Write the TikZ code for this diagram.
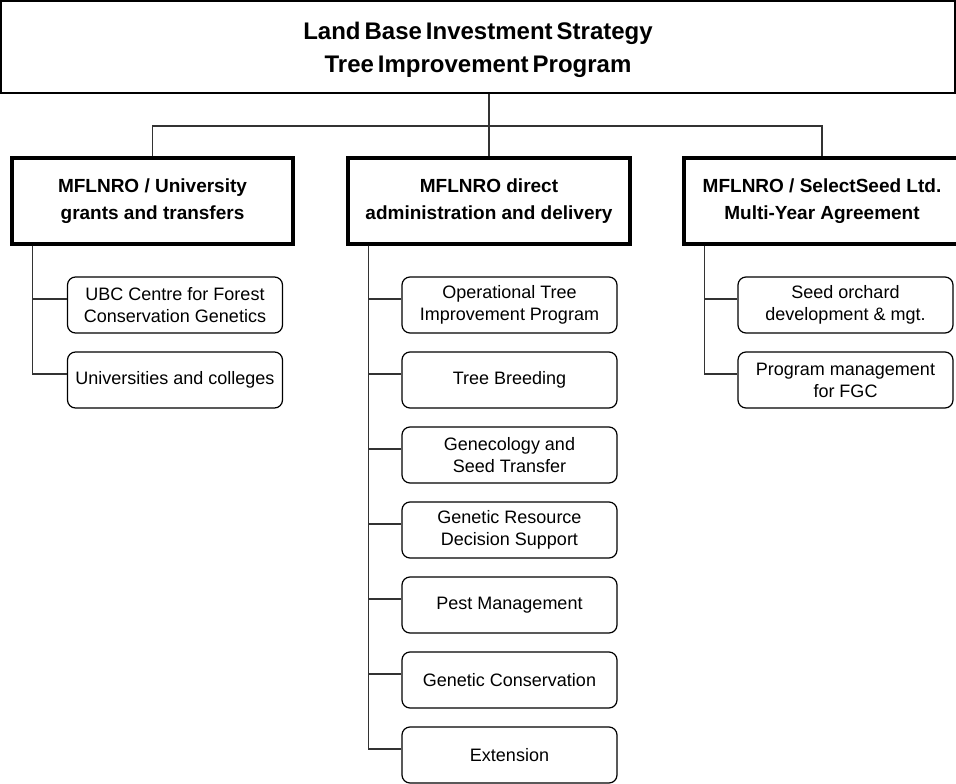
\documentclass[tikz,border=0pt]{standalone}
\usepackage{fontspec}
\setmainfont{Liberation Sans}
\newfontfamily\titlefont{Liberation Sans}[WordSpace=0.6]
\usetikzlibrary{calc}

\begin{document}
\begin{tikzpicture}[x=1pt,y=-1pt,
    topbox/.style={draw=black, line width=1.2pt, minimum width=954pt, minimum height=92pt,
      inner sep=0pt, align=center, font=\titlefont\bfseries\fontsize{24}{33}\selectfont},
    headbox/.style={draw=black, line width=3.2pt, minimum height=86pt,
      inner sep=0pt, align=center, font=\bfseries\fontsize{19}{27}\selectfont},
    itembox/.style={draw=black, line width=1.2pt, rounded corners=8pt, minimum width=215pt,
      minimum height=56pt, inner sep=0pt, align=center, font=\fontsize{18}{22}\selectfont},
    link/.style={draw=black!80, line width=1.3pt}]
\useasboundingbox (0,0) rectangle (956,784);
\clip (0,0) rectangle (956,784);

% top and heads
\node[topbox] (lbis) at (478,47) {};
\node at (lbis.center) [yshift=-3pt, align=center, font=\titlefont\bfseries\fontsize{24}{33}\selectfont] (title)
  {Land Base Investment Strategy\\Tree Improvement Program};
\node[headbox, minimum width=281pt] (univ) at (152.5,201) {MFLNRO / University\\grants and transfers};
\node[headbox, minimum width=282pt] (direct) at (489,201) {MFLNRO direct\\administration and delivery};
\node[headbox, minimum width=276pt] (seed) at (822,201) {MFLNRO / SelectSeed Ltd.\\Multi-Year Agreement};

\coordinate (bus) at (489,126);
\draw[link] (lbis.south -| direct.north) -- (direct.north);
\draw[link] (univ.north) |- (bus) -| (seed.north);

% university column
\node[itembox] (ubc) at (175,305) {UBC Centre for Forest\\Conservation Genetics};
\node[itembox] (colleges) at (175,380) {Universities and colleges};
\foreach \n in {ubc,colleges}
  \draw[link] ([xshift=22pt]univ.south west) |- ([yshift=6pt]\n.west);

% direct delivery column
\foreach \txt [count=\k from 0] in {{Operational Tree\\Improvement Program}, Tree Breeding,
    {Genecology and\\Seed Transfer}, {Genetic Resource\\Decision Support}, Pest Management,
    Genetic Conservation, Extension}
{
  \node[itembox] (mid\k) at (509.5,305+75*\k) {\txt};
  \draw[link] ([xshift=22pt]direct.south west) |- ([yshift=6pt]mid\k.west);
}

% selectseed column
\node[itembox] (orchard) at (845.5,305) {Seed orchard\\development \& mgt.};
\node[itembox] (fgc) at (845.5,380) {Program management\\for FGC};
\foreach \n in {orchard,fgc}
  \draw[link] ([xshift=22pt]seed.south west) |- ([yshift=6pt]\n.west);
\end{tikzpicture}
\end{document}
